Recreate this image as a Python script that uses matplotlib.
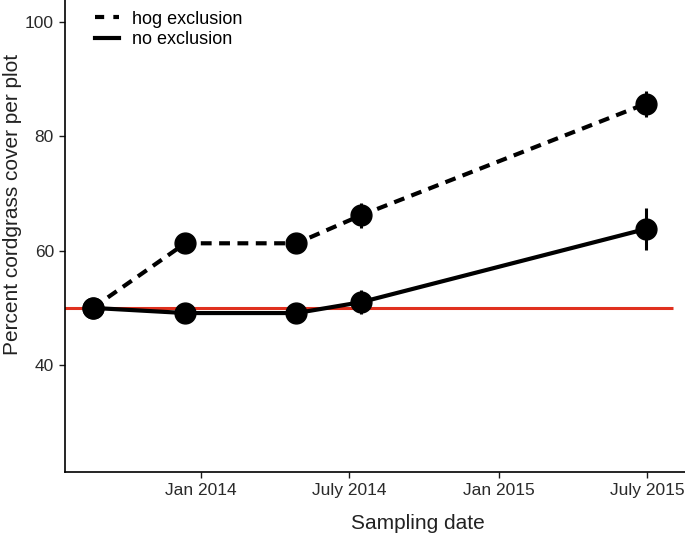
import matplotlib
matplotlib.use("Agg")
import matplotlib.pyplot as plt
import matplotlib.dates as mdates
from matplotlib.lines import Line2D
import datetime as dt

dates = [dt.date(2013, 8, 22), dt.date(2013, 12, 13), dt.date(2014, 4, 28),
         dt.date(2014, 7, 16), dt.date(2015, 6, 29)]
hog_mean = [50.0, 61.3, 61.3, 66.2, 85.7]
hog_se = [0.4, 0.6, 0.6, 2.2, 2.3]
no_mean = [50.0, 49.1, 49.1, 51.0, 63.8]
no_se = [0.4, 0.5, 0.5, 2.1, 3.6]
ref_value = 50
tick_dates = [dt.date(2014, 1, 1), dt.date(2014, 7, 1), dt.date(2015, 1, 1), dt.date(2015, 7, 1)]
tick_labels = ["Jan 2014", "July 2014", "Jan 2015", "July 2015"]

plt.rcParams['font.family'] = ['Liberation Sans', 'DejaVu Sans']

fig = plt.figure(figsize=(6.85, 5.36), dpi=100)
ax = fig.add_axes([65/685, 64/536, 620/685, 472/536])

xd = mdates.date2num(dates)
ax.hlines(ref_value, mdates.date2num(dt.date(2013, 7, 1)), mdates.date2num(dt.date(2015, 8, 1)),
          color='#e0301e', lw=2.2, zorder=1)

dash = (0, (2.6, 1.8))
ax.errorbar(xd, hog_mean, yerr=hog_se, color='black', lw=3, ls=dash,
            marker='o', ms=15, elinewidth=2.2, capsize=0, zorder=3)
ax.errorbar(xd, no_mean, yerr=no_se, color='black', lw=3, ls='-',
            marker='o', ms=15, elinewidth=2.2, capsize=0, zorder=3)

ax.set_xlim(mdates.date2num(dt.date(2013, 7, 19)), mdates.date2num(dt.date(2015, 8, 16)))
ax.set_ylim(21.3, 103.85)
ax.set_xticks(mdates.date2num(tick_dates))
ax.set_xticklabels(tick_labels)
ax.set_yticks([40, 60, 80, 100])
ax.tick_params(labelsize=12.5, length=4.5, width=1, colors='#1a1a1a', labelcolor='#2a2a2a')
for s in ['top', 'right']:
    ax.spines[s].set_visible(False)
for s in ['left', 'bottom']:
    ax.spines[s].set_linewidth(1.2)
ax.set_xlabel('Sampling date', fontsize=15, color='#222222')
ax.xaxis.set_label_coords(0.569, -0.089)
ax.set_ylabel('Percent cordgrass cover per plot', fontsize=15, color='#222222')
ax.yaxis.set_label_coords(-0.069, 0.566)

handles = [Line2D([], [], color='black', lw=3, ls=(0, (2.2, 2.2))),
           Line2D([], [], color='black', lw=3, ls='-')]
ax.legend(handles, ['hog exclusion', 'no exclusion'], loc='upper left',
          bbox_to_anchor=(0.022, 1.012), frameon=False, fontsize=13,
          handlelength=1.35, handletextpad=0.7, labelspacing=0.2)

fig.savefig('out.png', dpi=100)
